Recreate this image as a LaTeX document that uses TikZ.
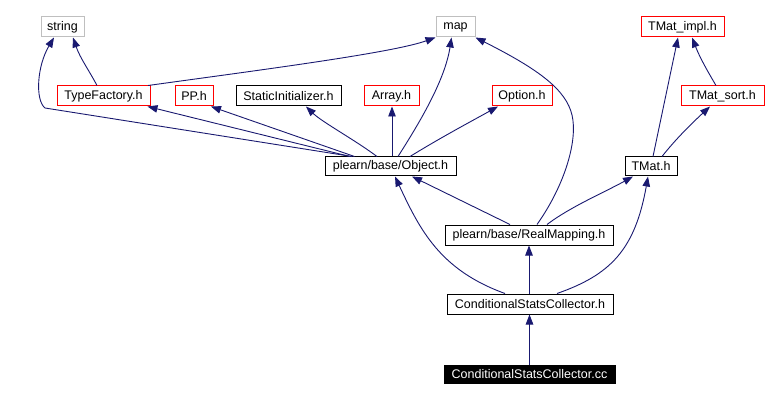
\documentclass[tikz,border=0pt]{standalone}
\usepackage{fontspec}
\setmainfont{Liberation Sans}
\usetikzlibrary{arrows.meta}
\definecolor{navy}{HTML}{191970}
\definecolor{boxgray}{HTML}{BFBFBF}
\tikzset{
  box/.style={draw, inner sep=0pt, minimum height=20pt, font=\fontsize{12.5}{14}\selectfont, line width=1pt},
  gbox/.style={box, draw=boxgray},
  rbox/.style={box, draw=red},
  bbox/.style={box, draw=black},
  dep/.style={draw=navy, line width=0.9pt, -{Triangle[length=10pt,width=7.5pt]}}
}
\begin{document}
\begin{tikzpicture}[x=1pt,y=-1pt]
\useasboundingbox (0,0) rectangle (766,401);
% nodes
\node[gbox, minimum width=43pt] (string) at (62.5,27) {string};
\node[gbox, minimum width=39pt] (map) at (455.5,27) {map};
\node[rbox, minimum width=83pt] (timpl) at (682.5,27) {TMat\_impl.h};
\node[rbox, minimum width=93pt] (tf) at (103.5,96) {TypeFactory.h};
\node[rbox, minimum width=38pt] (pp) at (194,96) {PP.h};
\node[bbox, minimum width=105pt] (si) at (288.5,96) {StaticInitializer.h};
\node[rbox, minimum width=55pt] (arr) at (391.5,96) {Array.h};
\node[rbox, minimum width=60pt] (opt) at (522,96) {Option.h};
\node[rbox, minimum width=83pt] (tsort) at (722.5,96) {TMat\_sort.h};
\node[bbox, minimum width=131pt, minimum height=19pt] (obj) at (390.5,166.5) {plearn/base/Object.h};
\node[bbox, minimum width=52pt, minimum height=19pt] (tmat) at (651,166.5) {TMat.h};
\node[bbox, minimum width=168pt] (rm) at (529,235) {plearn/base/RealMapping.h};
\node[bbox, minimum width=166pt] (csc) at (530,304) {ConditionalStatsCollector.h};
\node[box, draw=black, fill=black, text=white, minimum width=171pt, minimum height=18pt] (cc) at (529.5,374) {ConditionalStatsCollector.cc};
% edges
\draw[dep] ([xshift=-6.5pt]tf.north) .. controls (90,72) and (80,58) .. ([xshift=10.5pt]string.south);
\draw[dep] ([xshift=-38.5pt]obj.north) -- (45,108) .. controls (35,100) and (37,66) .. ([xshift=-8.5pt]string.south);
\draw[dep] ([xshift=-40.5pt]obj.north) -- ([xshift=44pt]tf.south);
\draw[dep] ([xshift=-36pt]obj.north) -- ([xshift=17pt]pp.south);
\draw[dep] ([xshift=-13.5pt]obj.north) .. controls (355,140) and (322,122) .. ([xshift=17.5pt]si.south);
\draw[dep] ([xshift=1.5pt]obj.north) -- ([xshift=0.5pt]arr.south);
\draw[dep] ([xshift=7.5pt]obj.north) .. controls (420,122) and (445,80) .. ([xshift=-4pt]map.south);
\draw[dep] ([xshift=19.5pt]obj.north) .. controls (440,138) and (470,122) .. ([xshift=-24pt]opt.south);
\draw[dep] ([xshift=44.5pt]tf.north) .. controls (260,70) and (392,53) .. (map.south west);
\draw[dep] ([xshift=8pt]rm.north) .. controls (565,185) and (578,140) .. (572,115) .. controls (566,90) and (540,70) .. (map.south east);
\draw[dep] ([xshift=-19pt]rm.north) -- ([xshift=21.5pt]obj.south);
\draw[dep] ([xshift=18pt]rm.north) .. controls (570,207) and (605,192) .. ([xshift=-18pt]tmat.south);
\draw[dep] ([xshift=2pt]tmat.north) -- ([xshift=-4.5pt]timpl.south);
\draw[dep] ([xshift=-6.5pt]tsort.north) .. controls (708,72) and (700,58) .. ([xshift=9.5pt]timpl.south);
\draw[dep] ([xshift=11pt]tmat.north) .. controls (675,140) and (690,125) .. ([xshift=-12.5pt]tsort.south);
\draw[dep] ([xshift=-25pt]csc.north) .. controls (440,270) and (420,230) .. ([xshift=4.5pt]obj.south);
\draw[dep] ([xshift=-1pt]csc.north) -- (rm.south);
\draw[dep] ([xshift=27pt]csc.north) .. controls (610,275) and (635,250) .. ([xshift=-3pt]tmat.south);
\draw[dep] (cc.north) -- ([xshift=-0.5pt]csc.south);
\end{tikzpicture}
\end{document}
